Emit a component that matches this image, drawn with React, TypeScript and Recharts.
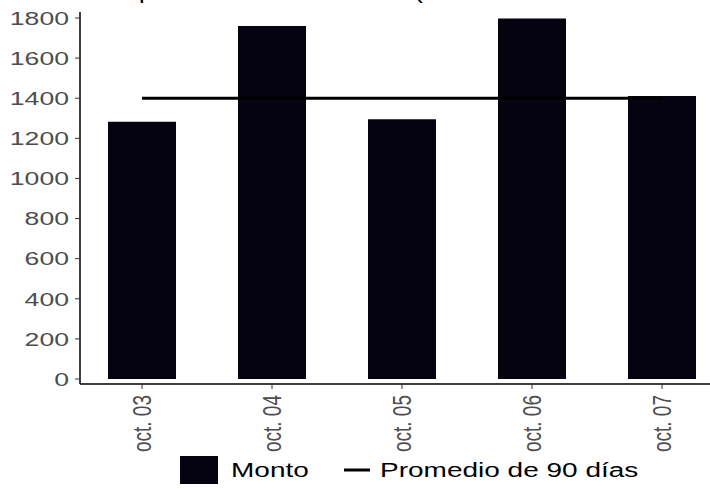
import { Bar, ComposedChart, Line, XAxis, YAxis } from "recharts";

const FECHAS = ["oct. 03", "oct. 04", "oct. 05", "oct. 06", "oct. 07"];
const MONTO = [1283, 1760, 1295, 1798, 1411];
const PROMEDIO = [1400, 1400, 1400, 1400, 1400];
const Y_TICKS = [0, 200, 400, 600, 800, 1000, 1200, 1400, 1600, 1800];
const SERIES = ["Monto", "Promedio de 90 días"];
const TITLE = "por día en el mes actual (";

const BAR = "#05030F";
const TEXT = "#4D4D4D";
const FONT = "'Liberation Sans', Arial, sans-serif";
const STRETCH = 1.4; // the source image is stretched horizontally

const data = FECHAS.map((fecha, i) => ({ fecha, monto: MONTO[i], promedio: PROMEDIO[i] }));

function YTick({ x, y, payload }: any) {
  return (
    <text
      transform={`translate(${x},${y}) scale(${STRETCH},1)`}
      textAnchor="end"
      dy="0.355em"
      fill={TEXT}
      fontSize={19}
      fontFamily={FONT}
    >
      {payload.value}
    </text>
  );
}

function XTick({ x, y, payload }: any) {
  return (
    <text
      transform={`translate(${x},${y}) scale(${STRETCH},1) rotate(-90)`}
      textAnchor="end"
      dy="0.355em"
      fill={TEXT}
      fontSize={19}
      fontFamily={FONT}
    >
      {payload.value}
    </text>
  );
}

export default function App() {
  return (
    <div style={{ position: "absolute", left: 0, top: 0, width: 710, height: 489, background: "#fff" }}>
      <ComposedChart width={710} height={489} data={data} margin={{ top: 12, right: 0, bottom: 0, left: 0 }}>
        <XAxis
          dataKey="fecha"
          interval={0}
          height={105}
          padding={{ left: -3, right: -17 }}
          tick={<XTick />}
          tickSize={5}
          tickMargin={6}
          axisLine={{ stroke: "#000", strokeWidth: 1.5 }}
          tickLine={{ stroke: "#333" }}
        />
        <YAxis
          width={80}
          domain={[-25, 1830]}
          ticks={Y_TICKS}
          tick={<YTick />}
          tickSize={5}
          tickMargin={6}
          axisLine={{ stroke: "#000", strokeWidth: 1.5 }}
          tickLine={{ stroke: "#333" }}
        />
        <Bar dataKey="monto" name={SERIES[0]} fill={BAR} barSize={68} isAnimationActive={false} />
        <Line
          dataKey="promedio"
          name={SERIES[1]}
          type="linear"
          stroke="#000"
          strokeWidth={3}
          dot={false}
          activeDot={false}
          isAnimationActive={false}
        />
      </ComposedChart>
      <svg width={710} height={20} style={{ position: "absolute", left: 0, top: 0 }}>
        <text x={139} y={-1} fontSize={20} fontFamily={FONT} fill="#000" textLength={284} lengthAdjust="spacingAndGlyphs">
          {TITLE}
        </text>
      </svg>
      <svg width={710} height={50} style={{ position: "absolute", left: 0, top: 445 }}>
        <rect x={180} y={11} width={38} height={28} fill={BAR} />
        <text transform={`translate(231,25) scale(${STRETCH},1)`} dy="0.355em" fontSize={20} fontFamily={FONT} fill="#000">
          {SERIES[0]}
        </text>
        <line x1={344} x2={370} y1={25} y2={25} stroke="#000" strokeWidth={3} />
        <text transform={`translate(380,25) scale(${STRETCH},1)`} dy="0.355em" fontSize={20} fontFamily={FONT} fill="#000">
          {SERIES[1]}
        </text>
      </svg>
    </div>
  );
}
